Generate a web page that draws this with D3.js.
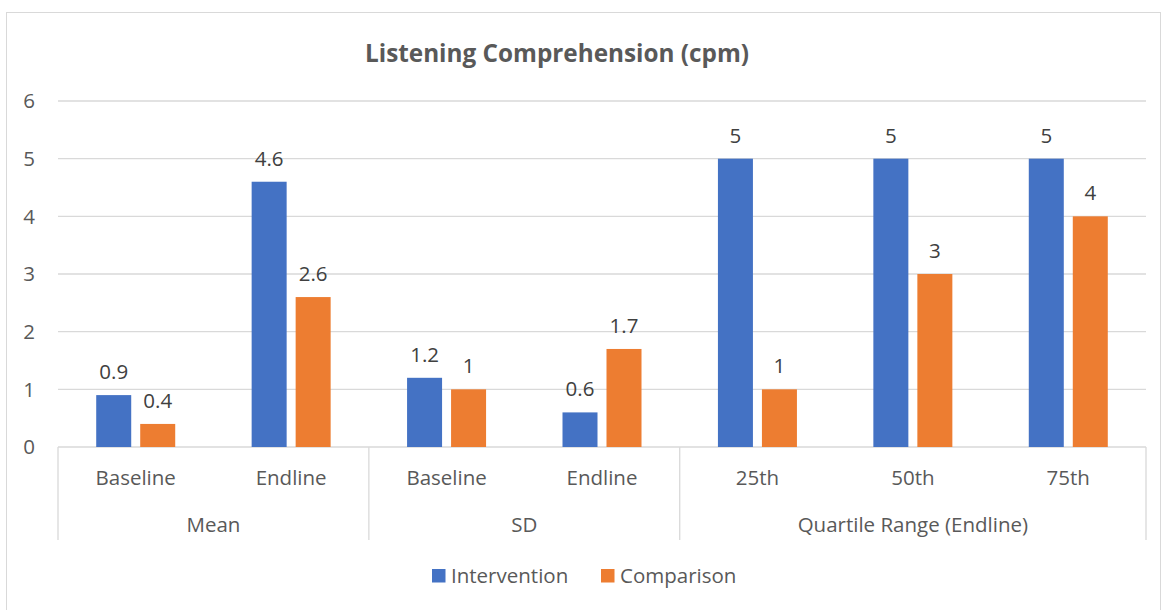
<!DOCTYPE html>
<html><head><meta charset="utf-8">
<script src="https://cdn.jsdelivr.net/npm/d3@7"></script>
<style>body{margin:0;background:#fff;} svg{display:block;} text{font-family:"Open Sans","Noto Sans",sans-serif;}</style>
</head><body><svg id="c" width="1164" height="610"></svg>
<script>
const categories = ["Baseline","Endline","Baseline","Endline","25th","50th","75th"];
const groups = [{name:"Mean", span:2},{name:"SD", span:2},{name:"Quartile Range (Endline)", span:3}];
const seriesNames = ["Intervention","Comparison"];
const intervention = [0.9, 4.6, 1.2, 0.6, 5, 5, 5];
const comparison = [0.4, 2.6, 1, 1.7, 1, 3, 4];
const yTicks = [0,1,2,3,4,5,6];
const colors = ["#4472C4","#ED7D31"];
const title = "Listening Comprehension (cpm)";

const FS = 20.5;
const svg = d3.select("#c");
const L = 58, R = 1146, T = 101, B = 447;
svg.append("rect").attr("x",6.5).attr("y",12.5).attr("width",1154).attr("height",600).attr("fill","#fff").attr("stroke","#d9d9d9");

const y = d3.scaleLinear().domain([0,6]).range([B,T]);
const idx = categories.map((c,i)=>i);
const x0 = d3.scaleBand().domain(idx).range([L,R]).paddingInner(0).paddingOuter(0);
const bw = x0.bandwidth();
const pairW = 79;
const x1 = d3.scaleBand().domain(seriesNames).range([(bw-pairW)/2,(bw+pairW)/2]).paddingInner(9/44).paddingOuter(0);

// gridlines
svg.append("g").selectAll("line").data(yTicks).join("line")
  .attr("x1",L).attr("x2",R).attr("y1",d=>y(d)).attr("y2",d=>y(d))
  .attr("stroke","#d9d9d9").attr("stroke-width",1.3);
// y labels
svg.append("g").selectAll("text").data(yTicks).join("text")
  .attr("x",35).attr("y",d=>y(d)).attr("dy","0.36em").attr("text-anchor","end")
  .attr("fill","#595959").attr("font-size",FS).text(d=>d);

// bars
const data = idx.map(i=>({i, vals:[intervention[i],comparison[i]]}));
const gBars = svg.append("g");
data.forEach(d=>{
  d.vals.forEach((v,k)=>{
    const bx = x0(d.i)+x1(seriesNames[k]);
    gBars.append("rect").attr("x",bx).attr("y",y(v)).attr("width",x1.bandwidth()).attr("height",y(0)-y(v))
      .attr("fill",colors[k]);
    gBars.append("text").attr("x",bx+x1.bandwidth()/2).attr("y",y(v)-16)
      .attr("text-anchor","middle").attr("fill","#404040").attr("font-size",FS).text(v);
  });
});

// category axis
const gAx = svg.append("g");
let bounds=[0]; let acc=0; groups.forEach(g=>{acc+=g.span; bounds.push(acc);});
bounds.forEach(b=>{
  const xx = b<categories.length ? x0(b) : R;
  gAx.append("line").attr("x1",xx).attr("x2",xx).attr("y1",B).attr("y2",540).attr("stroke","#d9d9d9").attr("stroke-width",1.3);
});
gAx.selectAll("text.cat").data(idx).join("text").attr("class","cat")
  .attr("x",i=>x0(i)+bw/2).attr("y",478).attr("dy","0.36em").attr("text-anchor","middle")
  .attr("fill","#595959").attr("font-size",FS).text(i=>categories[i]);
let st=0;
groups.forEach(g=>{
  const a=x0(st), e = st+g.span<categories.length ? x0(st+g.span) : R;
  gAx.append("text").attr("x",(a+e)/2).attr("y",525).attr("dy","0.36em").attr("text-anchor","middle")
    .attr("fill","#595959").attr("font-size",FS).text(g.name);
  st+=g.span;
});

// title
svg.append("text").attr("x",557).attr("y",53).attr("dy","0.36em").attr("text-anchor","middle").attr("font-weight","bold")
  .attr("fill","#595959").attr("font-size",24.3).text(title);

// legend
const leg = svg.append("g");
const legX=[432,601];
seriesNames.forEach((s,k)=>{
  leg.append("rect").attr("x",legX[k]).attr("y",569).attr("width",13.5).attr("height",13.5).attr("fill",colors[k]);
  leg.append("text").attr("x",legX[k]+19).attr("y",576).attr("dy","0.36em").attr("fill","#595959").attr("font-size",FS).text(s);
});
</script></body></html>
